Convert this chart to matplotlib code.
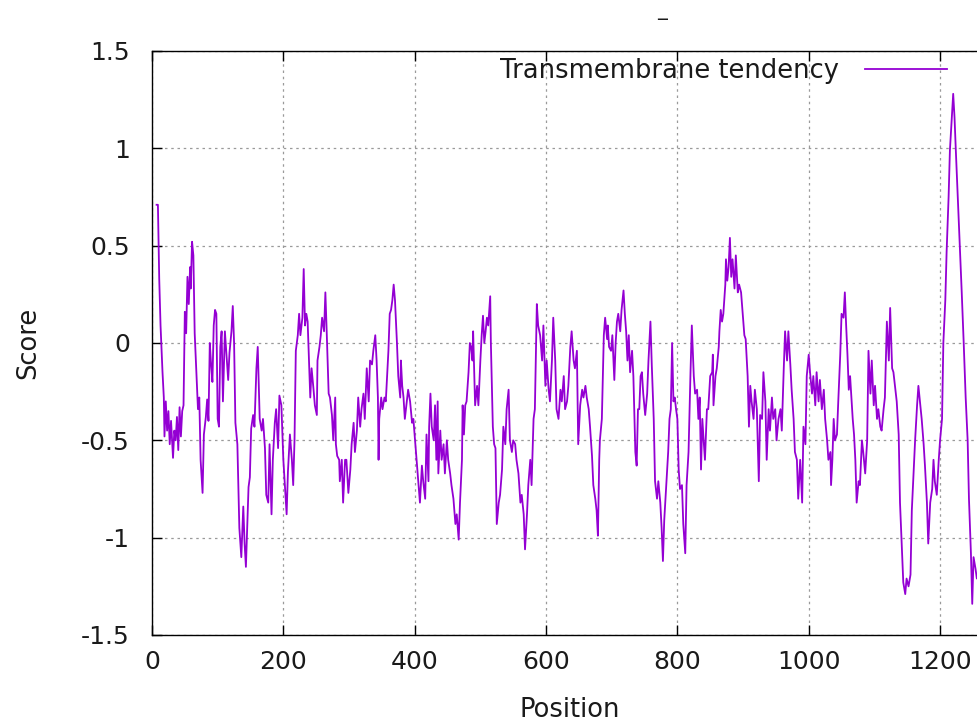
import matplotlib
matplotlib.use("Agg")
import matplotlib.pyplot as plt

plt.rcParams['font.family'] = ['DejaVu Sans']

title_text = "_"
series_name = "Transmembrane tendency"
x_label = "Position"
y_label = "Score"
x_ticks = [0, 200, 400, 600, 800, 1000, 1200]
y_ticks = [-1.5, -1, -0.5, 0, 0.5, 1, 1.5]
y_tick_labels = ["-1.5", "-1", "-0.5", "0", "0.5", "1", "1.5"]

positions = [
    7, 9, 11, 13, 16, 18, 19, 21, 23, 25, 27, 29, 32, 34, 36, 38, 40, 42, 44, 46, 48,
    50, 52, 54, 56, 58, 59, 61, 63, 65, 68, 70, 72, 74, 77, 79, 82, 84, 86, 88, 90, 92,
    94, 96, 98, 100, 102, 104, 106, 108, 111, 113, 116, 118, 121, 123, 125, 127, 130,
    133, 136, 139, 141, 143, 145, 147, 149, 151, 154, 156, 159, 161, 164, 167, 169, 172,
    174, 177, 179, 182, 184, 187, 189, 192, 194, 197, 200,
    202, 205, 207, 210, 213, 215, 217, 219, 222, 224, 226, 229, 231, 233, 235, 237, 239,
    241, 243, 246, 248, 251, 252, 255, 257, 259, 262, 264, 266, 269, 271, 274, 276, 279,
    280, 282, 285, 286, 289, 291, 294, 296, 299, 302, 304, 307, 309, 312, 314, 317, 319,
    322, 324, 327, 330, 332, 335, 337, 340, 342, 344, 345, 346, 349, 351, 354, 356, 360,
    362, 364, 366, 368, 370, 373, 375, 378, 379, 381, 383, 385, 388, 390, 393, 396, 398,
    401, 403, 406, 408, 411, 413, 416, 418, 421, 422, 424, 426, 429, 431, 433, 435, 436,
    439, 441, 444, 446, 449, 451, 454, 456, 459, 462, 464, 467, 469, 472, 473, 475, 477,
    479, 482, 484, 486, 488, 489, 492, 495, 497, 500, 502, 504, 506, 508, 510, 512, 515,
    516, 519, 521, 523, 525, 528, 530, 533, 535, 538, 540, 543, 545, 548, 550, 553, 555,
    558, 561, 563, 566, 568, 571, 573, 576, 578, 581, 583, 586, 588, 591, 594, 596, 599,
    601, 604, 606, 609, 611, 614, 616, 619, 622, 624, 627, 629, 632, 634, 637, 639, 642,
    644, 647, 649, 652, 655, 657, 660, 662, 665, 667, 670, 672, 675, 677, 679, 681, 682,
    685, 688, 690, 693, 694, 696, 699, 701, 704, 706, 708, 710, 713, 715, 718, 720, 722,
    724, 726, 728, 731, 733, 736, 738, 740, 742, 744, 746, 748, 751, 754, 756, 759, 761,
    764, 766, 769, 771, 774, 776, 778, 780, 783, 786, 788, 790, 792, 794, 796, 798, 800,
    802, 804, 807, 809, 812, 814, 817, 820, 822, 825, 827, 830, 832, 834, 836, 838, 840,
    842, 845, 847, 850, 853, 854, 855, 858, 860, 863, 864, 866, 868, 870, 873, 874, 876,
    878, 880, 882, 884, 887, 889, 892, 894, 897, 899, 902, 904, 907, 909, 911, 913, 916,
    918, 921, 924, 926, 929, 931, 934, 936, 939, 941, 944, 946, 949, 951, 954, 957, 959,
    962, 964, 967, 969, 972, 974, 977, 979, 982, 984, 987, 990, 992, 995, 997, 1000,
    1002, 1005, 1007, 1010, 1012, 1015, 1017, 1020, 1023, 1025, 1028, 1030, 1033, 1034,
    1036, 1038, 1040, 1043, 1045, 1048, 1050, 1053, 1055, 1057, 1059, 1061, 1063, 1065,
    1067, 1069, 1071, 1073, 1076, 1078, 1081, 1083, 1086, 1089, 1091, 1094, 1096, 1099,
    1101, 1104, 1106, 1109, 1111, 1114, 1116, 1119, 1122, 1124, 1127, 1129, 1132, 1134,
    1137, 1139, 1142, 1144, 1147, 1149, 1152, 1155, 1157, 1160, 1162, 1165, 1167, 1170,
    1172, 1175, 1177, 1180, 1182, 1185, 1188, 1190, 1192, 1195, 1198, 1200, 1203, 1205,
    1208, 1210, 1213, 1215, 1218, 1220, 1222, 1224, 1227, 1230, 1233, 1236, 1239, 1242,
    1244, 1247, 1249, 1251, 1254, 1256, 1258, 1261,
]

scores = [
    0.71, 0.71, 0.33, 0.09, -0.15, -0.28, -0.48, -0.30, -0.45, -0.35, -0.52, -0.40, -0.59,
    -0.45, -0.50, -0.38, -0.55, -0.33, -0.48, -0.35, -0.32,
    0.16, 0.05, 0.34, 0.20, 0.39, 0.28, 0.52, 0.45, 0.05, -0.19, -0.34, -0.28, -0.60, -0.77,
    -0.47, -0.38, -0.29, -0.40, 0.00, -0.11, -0.20,
    0.09, 0.17, 0.15, -0.39, -0.43, -0.02, 0.06, -0.30, 0.06, -0.04, -0.19, -0.05, 0.06,
    0.19, 0.00, -0.41, -0.52,
    -0.95, -1.10, -0.84, -1.03, -1.15, -0.95, -0.74, -0.69, -0.44, -0.37, -0.43, -0.13,
    -0.02, -0.39, -0.45, -0.39, -0.54,
    -0.78, -0.82, -0.52, -0.88, -0.60, -0.41, -0.34, -0.54, -0.27, -0.32, -0.60,
    -0.71, -0.88, -0.66, -0.47, -0.60, -0.73, -0.50, -0.04, 0.04, 0.15, 0.04, 0.13, 0.38,
    0.09, 0.15, 0.11, -0.09,
    -0.28, -0.13, -0.24, -0.32, -0.37, -0.09, -0.02, 0.04, 0.13, 0.06, 0.26, 0.06, -0.26,
    -0.28, -0.37, -0.50, -0.28,
    -0.52, -0.58, -0.60, -0.71, -0.60, -0.82, -0.60, -0.60, -0.77, -0.65, -0.52, -0.41,
    -0.56, -0.45, -0.28, -0.43, -0.34,
    -0.26, -0.39, -0.13, -0.30, -0.09, -0.11, -0.04, 0.04, -0.09, -0.28, -0.60, -0.39,
    -0.28, -0.34, -0.28, -0.30, -0.04,
    0.15, 0.17, 0.22, 0.30, 0.22, 0.00, -0.17, -0.28, -0.09, -0.22, -0.28, -0.39, -0.30,
    -0.24, -0.30, -0.41, -0.39,
    -0.52, -0.60, -0.73, -0.82, -0.63, -0.71, -0.80, -0.47, -0.71, -0.43, -0.26, -0.43,
    -0.50, -0.32, -0.60, -0.30, -0.67,
    -0.45, -0.60, -0.52, -0.67, -0.50, -0.60, -0.67, -0.73, -0.80, -0.93, -0.88, -1.01,
    -0.82, -0.60, -0.32, -0.47, -0.32,
    -0.30, -0.15, 0.00, -0.02, -0.09, 0.06, -0.32, -0.22, -0.32, -0.09, 0.04, 0.14, 0.00,
    0.06, 0.13, 0.09, 0.24,
    0.00, -0.43, -0.52, -0.54, -0.93, -0.82, -0.78, -0.65, -0.43, -0.52, -0.34, -0.24,
    -0.50, -0.56, -0.50, -0.52, -0.60,
    -0.67, -0.82, -0.78, -0.88, -1.06, -0.88, -0.73, -0.60, -0.73, -0.39, -0.34, 0.20,
    0.09, 0.04, -0.09, 0.09, -0.22,
    -0.09, -0.24, -0.30, -0.09, 0.13, -0.09, -0.34, -0.39, -0.24, -0.30, -0.17, -0.34,
    -0.30, -0.22, -0.02, 0.06, -0.09,
    -0.13, -0.04, -0.52, -0.32, -0.24, -0.28, -0.22, -0.28, -0.34, -0.43, -0.58, -0.73,
    -0.80, -0.86, -0.99, -0.60, -0.50,
    -0.39, 0.04, 0.13, 0.02, 0.09, -0.02, -0.04, 0.04, -0.19, 0.00, 0.11, 0.15, 0.06,
    0.17, 0.27, 0.15, 0.06,
    -0.09, 0.04, -0.15, -0.04, -0.17, -0.56, -0.63, -0.34, -0.34, -0.17, -0.15, -0.26,
    -0.37, -0.26, -0.09, 0.11, -0.11,
    -0.39, -0.71, -0.80, -0.71, -0.82, -0.95, -1.12, -0.91, -0.73, -0.56, -0.39, -0.34,
    0.00, -0.30, -0.28, -0.34, -0.39,
    -0.65, -0.75, -0.73, -0.93, -1.08, -0.73, -0.56, -0.15, 0.09, -0.17, -0.26, -0.24,
    -0.39, -0.28, -0.65, -0.39, -0.50,
    -0.60, -0.34, -0.34, -0.17, -0.15, -0.06, -0.32, -0.17, -0.13, -0.02, 0.06, 0.17,
    0.11, 0.15, 0.30, 0.43, 0.32,
    0.39, 0.54, 0.34, 0.43, 0.28, 0.45, 0.26, 0.30, 0.26, 0.17, 0.04, 0.02, -0.17, -0.43,
    -0.22, -0.30, -0.39,
    -0.24, -0.34, -0.71, -0.37, -0.39, -0.15, -0.30, -0.60, -0.34, -0.45, -0.28, -0.39,
    -0.34, -0.50, -0.39, -0.34, -0.45,
    -0.13, 0.06, -0.09, 0.06, -0.11, -0.24, -0.39, -0.56, -0.60, -0.80, -0.60, -0.82,
    -0.43, -0.52, -0.17, -0.06,
    -0.15, -0.26, -0.17, -0.32, -0.15, -0.30, -0.19, -0.34, -0.24, -0.39, -0.50, -0.60,
    -0.56, -0.73,
    -0.60, -0.39, -0.50, -0.47, -0.30, -0.06, 0.15, 0.13, 0.26, 0.09, -0.06, -0.24, -0.17,
    -0.28,
    -0.39, -0.47, -0.60, -0.82, -0.71, -0.73, -0.50, -0.56, -0.67, -0.50, -0.04, -0.26,
    -0.09, -0.32,
    -0.22, -0.39, -0.34, -0.43, -0.45, -0.34, -0.28, 0.11, -0.09, 0.18, -0.13, -0.15,
    -0.24, -0.30,
    -0.47, -0.82, -1.06, -1.23, -1.29, -1.21, -1.25, -1.19, -0.86, -0.65, -0.50, -0.32,
    -0.22, -0.32,
    -0.39, -0.52, -0.63, -0.82, -1.03, -0.82, -0.75, -0.60, -0.71, -0.78, -0.60, -0.50,
    -0.39, 0.00,
    0.22, 0.47, 0.75, 0.99, 1.16, 1.28, 1.16, 0.99, 0.75, 0.52, 0.26, 0.00, -0.28, -0.50,
    -0.80, -1.08, -1.34, -1.10, -1.16, -1.21, -1.19, -1.22,
]

W, H = 978, 723
fig = plt.figure(figsize=(W / 100, H / 100), dpi=100)
fig.patch.set_facecolor('white')

ax_left, ax_right, ax_top, ax_bottom = 152, 988, 51, 635
ax = fig.add_axes([ax_left / W, 1 - ax_bottom / H,
                   (ax_right - ax_left) / W, (ax_bottom - ax_top) / H])

line_color = '#9400D3'
ax.plot(positions, scores, color=line_color, lw=1.3, label=series_name)

ax.set_xlim(0, 1273)
ax.set_ylim(-1.5, 1.5)
ax.set_xticks(x_ticks)
ax.set_xticklabels([str(t) for t in x_ticks])
ax.set_yticks(y_ticks)
ax.set_yticklabels(y_tick_labels)

fs = 18.5
tfs = 18
text_color = '#1a1a1a'
ax.tick_params(axis='both', which='major', direction='in', length=7, width=1,
               top=True, right=True, labelsize=tfs, labelcolor=text_color)
ax.tick_params(axis='x', pad=11)
ax.tick_params(axis='y', pad=16)

for sp in ax.spines.values():
    sp.set_color('black')
    sp.set_linewidth(1.0)

ax.grid(True, color='#9a9a9a', linestyle=(0, (2, 3)), linewidth=0.9)
ax.set_axisbelow(True)

ax.set_xlabel(x_label, fontsize=fs, color=text_color)
ax.xaxis.set_label_coords(0.5, (ax_bottom - 710) / (ax_bottom - ax_top))
ax.xaxis.label.set_va('center')
ax.set_ylabel(y_label, fontsize=fs, color=text_color)
ax.yaxis.set_label_coords((28 - ax_left) / (ax_right - ax_left), 0.5)
ax.yaxis.label.set_va('center')

fig.text(662 / W, 1 - 1 / H, title_text, ha='center', va='top',
         fontsize=14, color=text_color)

leg = ax.legend(loc='center right', bbox_to_anchor=(947 / W, 1 - 71 / H),
                bbox_transform=fig.transFigure, markerfirst=False, frameon=False,
                handlelength=3.2, handletextpad=1.0, borderpad=0, borderaxespad=0,
                fontsize=fs)
for t in leg.get_texts():
    t.set_color(text_color)

fig.savefig('out.png', dpi=100)
